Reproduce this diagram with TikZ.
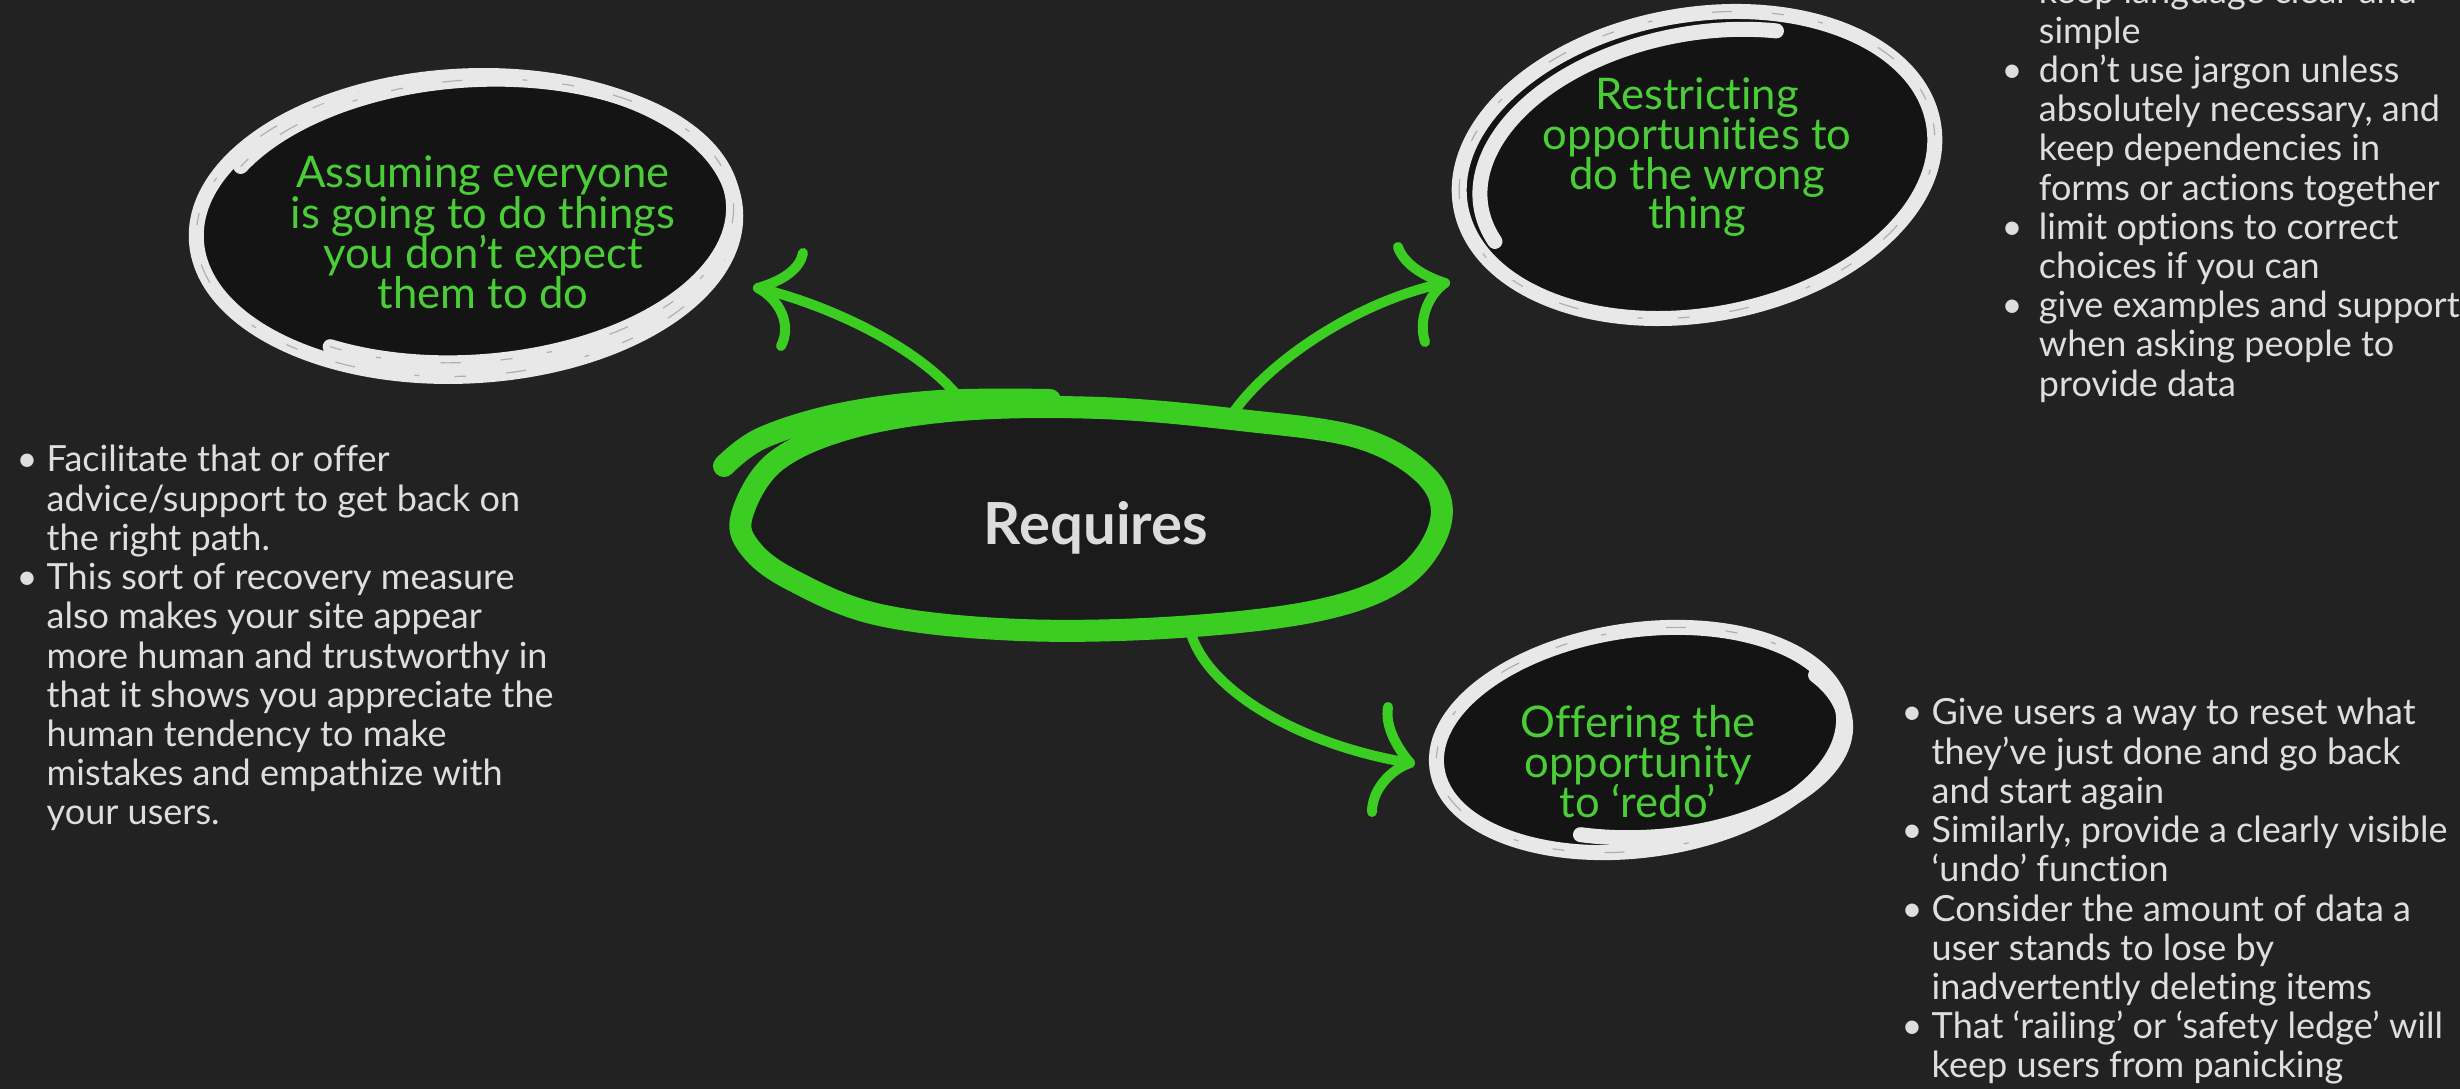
\documentclass[tikz,border=0pt]{standalone}
\usepackage{fontspec}
\setmainfont{Lato}[Ligatures=NoCommon]
\definecolor{bg}{RGB}{34,34,34}
\definecolor{ovalfill}{RGB}{20,20,20}
\definecolor{reqfill}{RGB}{27,27,28}
\definecolor{chalkwhite}{RGB}{232,232,232}
\definecolor{chalkshade}{RGB}{175,175,175}
\definecolor{limegreen}{RGB}{60,205,35}
\definecolor{textgreen}{RGB}{75,205,55}
\definecolor{bodygray}{RGB}{222,222,222}
\definecolor{reqtext}{RGB}{220,220,220}
% stacked lines with a fixed baseline distance; the box baseline is the first line
\newcommand\centerlines[1]{\vtop{\lineskiplimit=-100pt\halign{\hfil##\hfil\cr#1\crcr}}}
\newcommand\leftlines[1]{\vtop{\lineskiplimit=-100pt\halign{##\hfil\cr#1\crcr}}}
\newcommand\itemdot[1][0.30cm]{\makebox[#1][l]{\textbullet}}
\newcommand\itemgap[1][0.30cm]{\hspace*{#1}}
\begin{document}
\begin{tikzpicture}[x=0.01cm,y=-0.01cm,
  chalk/.style={draw=chalkwhite,line width=0.15cm,line cap=round},
  chalkgrain/.style={draw=chalkshade,line width=0.012cm,dash pattern=on 0.12cm off 0.35cm on 0.05cm off 0.6cm on 0.2cm off 0.4cm},
  greenloop/.style={draw=limegreen,line width=0.22cm,line cap=round},
  arrowline/.style={draw=limegreen,line width=0.10cm,line cap=round},
  ovaltext/.style={text=textgreen,inner sep=0,anchor=base,font=\fontsize{12.4}{11.25}\selectfont},
  bullets/.style={text=bodygray,inner sep=0,anchor=base west,font=\fontsize{10.25}{11.15}\selectfont}]
\useasboundingbox (0,0) rectangle (2460,1089);
\fill[bg] (0,0) rectangle (2460,1089);

% ---------- oval fills ----------
\fill[ovalfill,rotate around={3:(466,226)}] (466,226) ellipse [x radius=270,y radius=150];
\fill[ovalfill,rotate around={10:(1697,165)}] (1697,165) ellipse [x radius=240,y radius=150];
\fill[ovalfill,rotate around={8:(1640,740)}] (1640,740) ellipse [x radius=205,y radius=110];

% ---------- central green loop ----------
\def\reqpath{(742,515) (775,462) (850,428) (960,410) (1100,408) (1240,420) (1360,438) (1428,478) (1440,525) (1402,578) (1320,610) (1180,627) (1020,630) (880,615) (792,580) (750,548)}
\fill[reqfill] plot[smooth cycle,tension=0.6] coordinates {\reqpath};
\draw[greenloop] plot[smooth cycle,tension=0.6] coordinates {\reqpath};
\draw[greenloop] plot[smooth,tension=0.6] coordinates {(724,466) (762,438) (840,414) (940,401) (1050,400)};

% ---------- chalk outlines ----------
% upper left oval
\begin{scope}[rotate around={3:(466,226)}]
  \draw[chalk] (466,226) ellipse [x radius=270,y radius=150];
  \draw[chalkgrain] (466,226) ellipse [x radius=270,y radius=150];
\end{scope}
\begin{scope}[rotate around={4:(472,221)}]
  \draw[chalk] (472,221) ++(125:262 and 141) arc[start angle=125,end angle=-150,x radius=262,y radius=141];
  \draw[chalkgrain] (472,221) ++(125:262 and 141) arc[start angle=125,end angle=-150,x radius=262,y radius=141];
\end{scope}
% upper right oval
\begin{scope}[rotate around={10:(1697,165)}]
  \draw[chalk] (1697,165) ellipse [x radius=240,y radius=150];
  \draw[chalkgrain] (1697,165) ellipse [x radius=240,y radius=150];
  \draw[chalk] (1703,170) ++(165:226 and 136) arc[start angle=165,end angle=295,x radius=226,y radius=136];
\end{scope}
% lower right oval
\begin{scope}[rotate around={8:(1640,740)}]
  \draw[chalk] (1640,740) ellipse [x radius=205,y radius=110];
  \draw[chalkgrain] (1640,740) ellipse [x radius=205,y radius=110];
\end{scope}
\begin{scope}[rotate around={4:(1648,737)}]
  \draw[chalk] (1648,737) ++(112:198 and 100) arc[start angle=112,end angle=-30,x radius=198,y radius=100];
\end{scope}

% ---------- texts in the ovals ----------
\node[ovaltext,font=\fontsize{12.4}{11.38}\selectfont] (assume) at (483,188) {\centerlines{Assuming everyone\cr is going to do things\cr you don’t expect\cr them to do}};
\node[ovaltext] (restrict) at (1697,110) {\centerlines{Restricting\cr opportunities to\cr do the wrong\cr thing}};
\node[ovaltext] (redo) at (1638,738) {\centerlines{Offering the\cr opportunity\cr to ‘redo’}};
\node[text=reqtext,inner sep=0,anchor=base,font=\fontsize{16.5}{19}\selectfont\bfseries] (req) at (1096,545) {Requires};

% ---------- arrows ----------
\coordinate (a1s) at (963,403);  \coordinate (a1t) at (758,288);
\coordinate (a1u) at (803,253);  \coordinate (a1d) at (781,346);
\coordinate (a2s) at (1233,413); \coordinate (a2t) at (1445,283);
\coordinate (a2u) at (1398,247); \coordinate (a2d) at (1425,342);
\coordinate (a3s) at (1190,630); \coordinate (a3t) at (1410,763);
\coordinate (a3u) at (1388,707); \coordinate (a3d) at (1372,812);

\draw[arrowline] (a1s) .. controls (925,350) and (830,305) .. (a1t);
\draw[arrowline] (a1t) .. controls (785,280) and (800,268) .. (a1u);
\draw[arrowline] (a1t) .. controls (780,300) and (792,325) .. (a1d);

\draw[arrowline] (a2s) .. controls (1270,360) and (1360,300) .. (a2t);
\draw[arrowline] (a2t) .. controls (1420,275) and (1403,262) .. (a2u);
\draw[arrowline] (a2t) .. controls (1428,295) and (1418,320) .. (a2d);

\draw[arrowline] (a3s) .. controls (1205,690) and (1300,745) .. (a3t);
\draw[arrowline] (a3t) .. controls (1395,745) and (1385,725) .. (a3u);
\draw[arrowline] (a3t) .. controls (1390,770) and (1372,790) .. (a3d);

% ---------- bullet lists ----------
\node[bullets] (listleft) at (16,472) {\leftlines{%
\itemdot Facilitate that or offer\cr
\itemgap advice/support to get back on\cr
\itemgap the right path.\cr
\itemdot This sort of recovery measure\cr
\itemgap also makes your site appear\cr
\itemgap more human and trustworthy in\cr
\itemgap that it shows you appreciate the\cr
\itemgap human tendency to make\cr
\itemgap mistakes and empathize with\cr
\itemgap your users.}};

\node[bullets] (listtop) at (2001,4) {\leftlines{%
\itemdot[0.28cm] keep language clear and\cr
\itemgap[0.28cm] simple\cr
\itemdot[0.28cm] don’t use jargon unless\cr
\itemgap[0.28cm] absolutely necessary, and\cr
\itemgap[0.28cm] keep dependencies in\cr
\itemgap[0.28cm] forms or actions together\cr
\itemdot[0.28cm] limit options to correct\cr
\itemgap[0.28cm] choices if you can\cr
\itemdot[0.28cm] give examples and support\cr
\itemgap[0.28cm] when asking people to\cr
\itemgap[0.28cm] provide data}};

\node[bullets] (listbottom) at (1901,725) {\leftlines{%
\itemdot Give users a way to reset what\cr
\itemgap they’ve just done and go back\cr
\itemgap and start again\cr
\itemdot Similarly, provide a clearly visible\cr
\itemgap ‘undo’ function\cr
\itemdot Consider the amount of data a\cr
\itemgap user stands to lose by\cr
\itemgap inadvertently deleting items\cr
\itemdot That ‘railing’ or ‘safety ledge’ will\cr
\itemgap keep users from panicking}};
\end{tikzpicture}
\end{document}
